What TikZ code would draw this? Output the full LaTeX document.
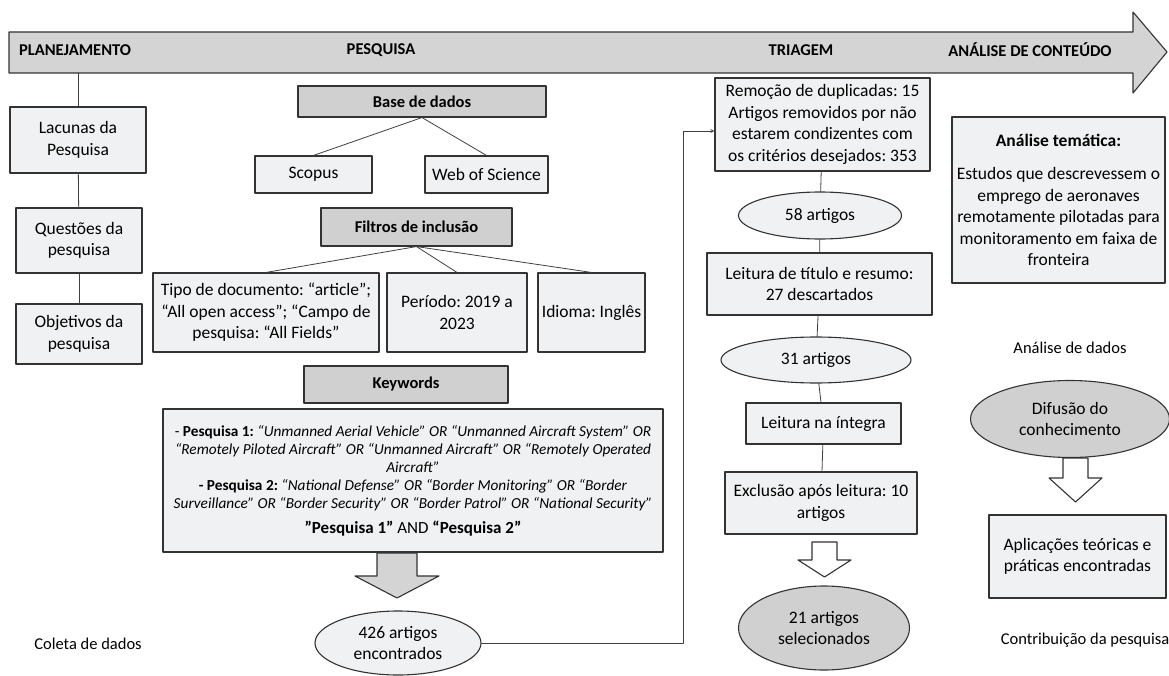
\documentclass[tikz,border=0pt]{standalone}
\usepackage{fontspec}
\setmainfont{Carlito}
\usetikzlibrary{shapes.geometric}
\definecolor{boxfill}{HTML}{F0F1F2}
\definecolor{darkfill}{HTML}{D0D0D0}
\definecolor{bandfill}{HTML}{D4D4D4}
\newcommand{\fsz}[2]{\fontsize{#1}{#2}\selectfont}
\frenchspacing
\begin{document}
\begin{tikzpicture}[x=1pt, y=-1pt, line cap=round, line join=round, >=stealth, font=\fsz{17.5}{21.5}]
	\tikzset{box/.style={draw=black!80, fill=boxfill, line width=1.1pt, align=center, inner sep=0pt, font=\fsz{17.5}{21.5}},
		hbox/.style={box, fill=darkfill, font=\fsz{16.5}{20}\bfseries},
		oval/.style={box, ellipse},
		link/.style={draw=black!75, line width=0.8pt},
		phase/.style={font=\fsz{16.5}{20}\bfseries},
		note/.style={font=\fsz{16.5}{20}}}
	\useasboundingbox (0,0) rectangle (1169,676);
	\draw[fill=bandfill, line width=1.1pt, draw=black!80] (9,32) -- (1133,32) -- (1133,12) -- (1167,52) -- (1133,93) -- (1133,73) -- (9,73) -- cycle;
	\node[phase] (planej) at (75,50) {PLANEJAMENTO};
	\node[phase] (pesq) at (381,50) {PESQUISA};
	\node[phase] (triag) at (801,50) {TRIAGEM};
	\node[phase] (analise) at (1030,50) {ANÁLISE DE CONTEÚDO};
	% planejamento
	\node[box, minimum width=136, minimum height=66] (lacunas) at (78,140) {Lacunas da\\Pesquisa};
	\node[box, minimum width=126, minimum height=65] (questoes) at (79,240.5) {Questões da\\pesquisa};
	\node[box, minimum width=126, minimum height=60] (objetivos) at (79,334) {Objetivos da\\pesquisa};
	\node[note] (coleta) at (88,644) {Coleta de dados};
	\draw[link] (lacunas.north |- 0,73) -- (lacunas.north);
	\draw[link] (lacunas) -- (questoes);
	\draw[link] (questoes) -- (objetivos);
	% pesquisa
	\node[hbox, minimum width=248, minimum height=31] (base) at (422,101.5) {Base de dados};
	\node[box, minimum width=117, minimum height=37] (scopus) at (313.5,174.5) {Scopus};
	\node[box, minimum width=123, minimum height=37] (wos) at (486.5,174.5) {Web of Science};
	\node[hbox, minimum width=191, minimum height=38] (filtros) at (416.5,227) {Filtros de inclusão};
	\node[box, minimum width=226, minimum height=79] (tipo) at (266,312.5) {Tipo de documento: “article”;\\“All open access”; “Campo de\\pesquisa: “All Fields”};
	\node[box, minimum width=140, minimum height=79] (periodo) at (457,312.5) {Período: 2019 a\\2023};
	\node[box, minimum width=107, minimum height=79] (idioma) at (591.5,312.5) {Idioma: Inglês};
	\node[hbox, minimum width=204, minimum height=37] (keywords) at (406,384.5) {Keywords};
	\node[box, minimum width=500, minimum height=143, font=\fsz{15.3}{18}] (kwtext) at (413,480.5) {- \textbf{Pesquisa 1:} \textit{“Unmanned Aerial Vehicle" OR “Unmanned Aircraft System” OR}\\
		\textit{“Remotely Piloted Aircraft” OR “Unmanned Aircraft” OR “Remotely Operated}\\
		\textit{Aircraft”}\\
		\textbf{- Pesquisa 2:} \textit{“National Defense” OR “Border Monitoring” OR “Border}\\
		\textit{Surveillance” OR “Border Security” OR “Border Patrol” OR “National Security”}\\[7pt]
		{\fsz{17}{20}\textbf{”Pesquisa 1”} AND \textbf{“Pesquisa 2”}}};
	\node[oval, minimum width=166, minimum height=64] (e426) at (398,643) {426 artigos\\encontrados};
	\draw[link] (base.south) -- (scopus.north);
	\draw[link] (base.south) -- (wos.north);
	\draw[link] (filtros.south) -- (tipo.north);
	\draw[link] (filtros.south) -- (periodo.north);
	\draw[link] (filtros.south) -- (idioma.north);
	\draw[fill=bandfill, line width=1.1pt, draw=black!80] (377,553) -- (417,553) -- (417,576) -- (439,576) -- (397,598) -- (355,576) -- (377,576) -- cycle;
	% triagem
	\node[box, minimum width=215, minimum height=93] (remocao) at (822.5,124.5) {Remoção de duplicadas: 15\\Artigos removidos por não\\estarem condizentes com\\os critérios desejados: 353};
	\node[oval, minimum width=163, minimum height=47] (e58) at (820,215.5) {58 artigos};
	\node[box, minimum width=225, minimum height=62] (titulo) at (819.5,284) {Leitura de título e resumo:\\27 descartados};
	\node[oval, minimum width=190, minimum height=46] (e31) at (816,360) {31 artigos};
	\node[box, minimum width=155, minimum height=41] (integra) at (823.5,423.5) {Leitura na íntegra};
	\node[box, minimum width=192, minimum height=62] (exclusao) at (821,503) {Exclusão após leitura: 10\\artigos};
	\node[oval, minimum width=171, minimum height=84, fill=darkfill] (e21) at (824,628) {21 artigos\\selecionados};
	\coordinate (bend) at (683,131);
	\draw[link, ->] (e426.east) -| (bend) -- (remocao.west |- bend);
	\draw[link] (remocao) -- (e58);
	\draw[link] (e58) -- (titulo);
	\draw[link] (titulo) -- (e31);
	\draw[link] (e31) -- (integra);
	\draw[link] (integra) -- (exclusao);
	\draw[fill=white, line width=1.1pt, draw=black!80] (812,542) -- (837,542) -- (837,560) -- (851,560) -- (824.5,577) -- (798,560) -- (812,560) -- cycle;
	% analise de conteudo
	\node[box, minimum width=213, minimum height=166] (tematica) at (1058.5,200) {\textbf{Análise temática:}\\[12pt]Estudos que descrevessem o\\emprego de aeronaves\\remotamente pilotadas para\\monitoramento em faixa de\\fronteira};
	\node[note] (dados) at (1070,348) {Análise de dados};
	\node[oval, minimum width=199, minimum height=77, fill=darkfill] (difusao) at (1070,419) {Difusão do\\conhecimento};
	\draw[fill=white, line width=1.1pt, draw=black!80] (1063,458) -- (1088,458) -- (1088,478) -- (1102,478) -- (1075.5,502) -- (1049,478) -- (1063,478) -- cycle;
	\node[box, minimum width=177, minimum height=83] (aplicacoes) at (1077.5,556.5) {Aplicações teóricas e\\práticas encontradas};
	\node[note] (contrib) at (1085,640) {Contribuição da pesquisa};
\end{tikzpicture}
\end{document}
